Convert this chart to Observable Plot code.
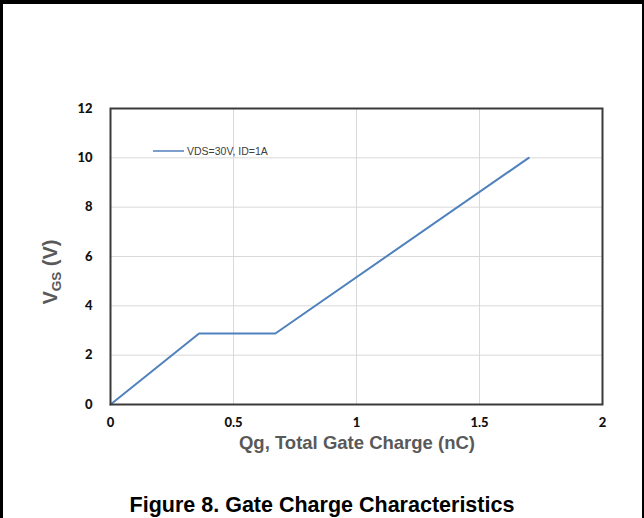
<!DOCTYPE html>
<html>
<head>
<meta charset="utf-8">
<script src="https://cdn.jsdelivr.net/npm/d3@7"></script>
<script src="https://cdn.jsdelivr.net/npm/@observablehq/plot@0.6"></script>
<style>
  html, body { margin: 0; padding: 0; background: #fff; }
  #wrap { position: relative; width: 644px; height: 518px; overflow: hidden; background: #fff; }
  #border { position: absolute; left: 0; top: 0; width: 644px; height: 600px; box-sizing: border-box;
            border-top: 4px solid #000; border-left: 3px solid #000; border-right: 2px solid #000; }
  #chart { position: absolute; left: 0; top: 0; }
  #title { position: absolute; left: 0; width: 644px; top: 493px; text-align: center;
           font-family: "Liberation Sans", Arial, sans-serif; font-weight: bold; font-size: 21.5px;
           line-height: 24px; color: #000; }
</style>
</head>
<body>
<div id="wrap">
  <div id="border"></div>
  <div id="chart"></div>
  <div id="title">Figure 8. Gate Charge Characteristics</div>
</div>
<script>
// Data
const qg  = [0, 0.36, 0.67, 1.7];     // total gate charge (nC)
const vgs = [0, 2.88, 2.88, 10];      // gate-source voltage (V)
const seriesName = "VDS=30V, ID=1A";
const xTicks = [0, 0.5, 1, 1.5, 2];
const yTicks = [0, 2, 4, 6, 8, 10, 12];
const xLabel = "Qg, Total Gate Charge (nC)";

const data = qg.map((q, i) => ({q, v: vgs[i]}));

const W = 644, H = 470;
const chart = Plot.plot({
  width: W, height: H,
  marginLeft: 110, marginRight: 42, marginTop: 108, marginBottom: 66,
  style: {fontFamily: "Lato, 'Open Sans', sans-serif", fontSize: "12px", background: "transparent"},
  x: {domain: [0, 2], ticks: xTicks, tickFormat: d => String(d), label: null},
  y: {domain: [0, 12], ticks: yTicks, tickFormat: d => String(d), label: null},
  marks: [
    Plot.gridX(xTicks, {stroke: "#d9d9d9", strokeOpacity: 1, strokeWidth: 1}),
    Plot.gridY(yTicks, {stroke: "#d9d9d9", strokeOpacity: 1, strokeWidth: 1}),
    Plot.axisX({ticks: xTicks, tickSize: 0, tickPadding: 13, tickFormat: d => String(d),
                fontWeight: "900", fill: "#111", fontSize: 13, label: null}),
    Plot.axisY({ticks: yTicks, tickSize: 0, tickPadding: 18, tickFormat: d => String(d),
                fontWeight: "900", fill: "#111", fontSize: 13, label: null}),
    Plot.line(data, {x: "q", y: "v", stroke: "#4f81bd", strokeWidth: 2}),
    Plot.frame({stroke: "#3a3a3a", strokeWidth: 2})
  ]
});
document.getElementById("chart").appendChild(chart);

const svg = d3.select(chart);
// X axis title
svg.append("text")
  .attr("x", 357).attr("y", 449)
  .attr("text-anchor", "middle")
  .attr("font-family", "'Liberation Sans', Arial, sans-serif")
  .attr("font-weight", "bold").attr("font-size", 18.5).attr("fill", "#595959")
  .text(xLabel);
// Y axis title with subscript
const yt = svg.append("text")
  .attr("transform", "translate(57,272) rotate(-90)")
  .attr("text-anchor", "middle")
  .attr("font-family", "'Liberation Sans', Arial, sans-serif")
  .attr("font-weight", "bold").attr("font-size", 20).attr("fill", "#595959");
yt.append("tspan").text("V");
yt.append("tspan").attr("font-size", 13.5).attr("dy", 4).text("GS");
yt.append("tspan").attr("dy", -4).text(" (V)");
// Legend
const lg = svg.append("g");
lg.append("line").attr("x1", 153).attr("x2", 184).attr("y1", 151).attr("y2", 151)
  .attr("stroke", "#4f81bd").attr("stroke-width", 1.5);
lg.append("text").attr("x", 187).attr("y", 151).attr("dy", "0.35em")
  .attr("text-anchor", "start")
  .attr("font-family", "'Liberation Sans', Arial, sans-serif")
  .attr("font-size", 10.5).attr("fill", "#404040")
  .text(seriesName);
</script>
</body>
</html>
